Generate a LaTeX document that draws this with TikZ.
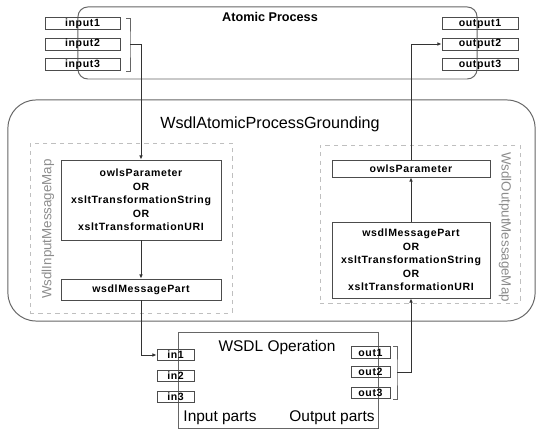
\documentclass[tikz,border=0pt]{standalone}
\usepackage{fontspec}
\setmainfont{Liberation Sans}
\newfontfamily\boxfont[LetterSpace=6]{Liberation Sans}
\usetikzlibrary{arrows.meta}

\begin{document}
\begin{tikzpicture}[x=0.025cm, y=-0.025cm,
		g/.style	= {rectangle, rounded corners=7pt, draw=black!60, line width=0.7pt},
		m/.style	= {rectangle, draw=black!25, dashed, line width=0.5pt},
		p/.style	= {rectangle, draw=black!70, line width=0.6pt, inner sep=0pt, align=center,
						font=\boxfont\bfseries\fontsize{7.5}{9.6}\selectfont},
		t/.style	= {font=\fontsize{11}{13}\selectfont},
		ml/.style	= {text=black!45, font=\fontsize{9.5}{11}\selectfont},
		r/.style	= {-{Latex[length=3pt, width=2.6pt]}, draw=black!80, line width=0.6pt},
		br/.style	= {draw=black!60, line width=0.5pt}
		]
		\useasboundingbox (0,0) rectangle (538,432);
		
		% === === Atomic Process === ===
		\node[g, minimum width=9.975cm, minimum height=1.8cm]	(atomic)	at	(277.5, 43)	{};
		\node[font=\bfseries\fontsize{9}{11}\selectfont]		(atomic-l)	at	(270, 17)	{Atomic Process};
		
		\node[p, minimum width=1.875cm, minimum height=0.3cm]	(input1)	at	(82.5, 23.5)	{input1};
		\node[p, minimum width=1.875cm, minimum height=0.3cm]	(input2)	at	(82.5, 44)		{input2};
		\node[p, minimum width=1.875cm, minimum height=0.3cm]	(input3)	at	(82.5, 64.5)	{input3};
		
		\node[p, minimum width=1.9cm, minimum height=0.3cm]		(output1)	at	(480, 23.5)		{output1};
		\node[p, minimum width=1.9cm, minimum height=0.3cm]		(output2)	at	(480, 44)		{output2};
		\node[p, minimum width=1.9cm, minimum height=0.3cm]		(output3)	at	(480, 64.5)		{output3};
		
		% === === Grounding === ===
		\node[g, rounded corners=20pt, minimum width=13.175cm, minimum height=5.525cm]	(grounding)	at	(271.5, 210.5)	{};
		\node[t, font=\fontsize{11.5}{13}\selectfont]	(grounding-l)	at	(270, 124)	{WsdlAtomicProcessGrounding};
		
		\node[m, minimum width=5.05cm, minimum height=4.25cm]	(inmap)		at	(131, 228)	{};
		\node[ml, rotate=90]									(inmap-l)	at	(48, 229)	{WsdlInputMessageMap};
		\node[p, minimum width=4cm, minimum height=2cm]			(lmap1)		at	(141, 200)
			{owlsParameter\\OR\\xsltTransformationString\\OR\\xsltTransformationURI};
		\node[p, minimum width=4cm, minimum height=0.525cm]		(lmap2)		at	(141, 289.5)	{wsdlMessagePart};
		
		\node[m, minimum width=5cm, minimum height=3.95cm]		(outmap)	at	(420, 224)	{};
		\node[ml, rotate=-90]									(outmap-l)	at	(505, 227)	{WsdlOutputMessageMap};
		\node[p, minimum width=3.95cm, minimum height=0.425cm]	(rmap1)		at	(411, 168.5)	{owlsParameter};
		\node[p, minimum width=3.95cm, minimum height=1.9cm]	(rmap2)		at	(411, 260)
			{wsdlMessagePart\\OR\\xsltTransformationString\\OR\\xsltTransformationURI};
		
		% === === WSDL Operation === ===
		\node[rectangle, draw=black!60, line width=0.7pt, minimum width=4.975cm, minimum height=2.375cm]	(wsdl)	at	(278.5, 380.5)	{};
		\node[t]	(wsdl-l)	at	(277, 347)	{WSDL Operation};
		\node[t]	(inparts)	at	(220, 418)	{Input parts};
		\node[t]	(outparts)	at	(332, 418)	{Output parts};
		
		\node[p, minimum width=0.925cm, minimum height=0.28cm]	(in1)	at	(175.5, 355)	{in1};
		\node[p, minimum width=0.925cm, minimum height=0.28cm]	(in2)	at	(175.5, 376)	{in2};
		\node[p, minimum width=0.925cm, minimum height=0.28cm]	(in3)	at	(175.5, 397)	{in3};
		
		\node[p, minimum width=0.975cm, minimum height=0.28cm]	(out1)	at	(370.5, 352.5)	{out1};
		\node[p, minimum width=0.975cm, minimum height=0.28cm]	(out2)	at	(370.5, 372)	{out2};
		\node[p, minimum width=0.975cm, minimum height=0.28cm]	(out3)	at	(370.5, 393)	{out3};
		
		\coordinate	(in-br)		at	(130, 44);
		\coordinate	(out-br)	at	(397, 372);
		
		% === === Lines === ===
		\draw[br]	(126, 18)	-|	(in-br)		|-	(126, 71);
		\draw[br]	(393, 346)	-|	(out-br)	|-	(393, 399);
		
		\draw[r]	(in-br)			-|	(lmap1.north);
		\draw[r]	(lmap1.south)	to	(lmap2.north);
		\draw[r]	(lmap2.south)	|-	(in1.west);
		
		\draw[r]	(out-br)		-|	(rmap2.south);
		\draw[r]	(rmap2.north)	to	(rmap1.south);
		\draw[r]	(rmap1.north)	|-	(output2.west);
		
	\end{tikzpicture}
\end{document}
